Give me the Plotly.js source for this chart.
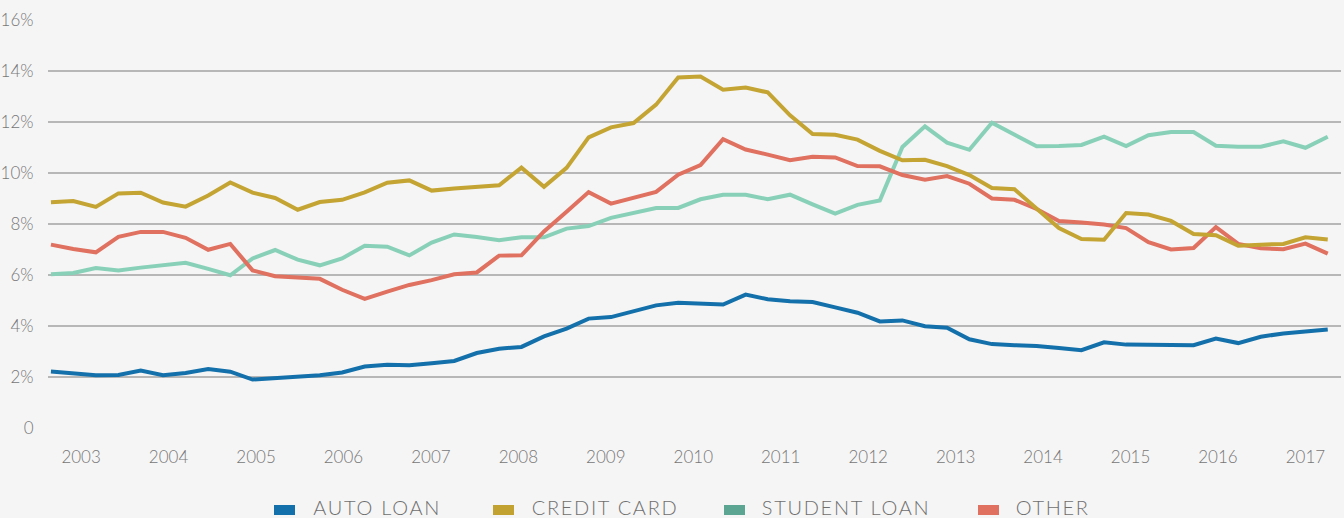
<!DOCTYPE html>
<html>
<head>
<meta charset="utf-8">
<script src="https://cdn.plot.ly/plotly-3.0.1.min.js"></script>
<style>
  html, body { margin: 0; padding: 0; background: #f5f5f5; }
  #chart { width: 1344px; height: 518px; }
  #chart .annotation-text { letter-spacing: 1.7px; }
</style>
</head>
<body>
<div id="chart"></div>
<script>
const quarters = [
  "2003-03-31","2003-06-30","2003-09-30","2003-12-31",
  "2004-03-31","2004-06-30","2004-09-30","2004-12-31",
  "2005-03-31","2005-06-30","2005-09-30","2005-12-31",
  "2006-03-31","2006-06-30","2006-09-30","2006-12-31",
  "2007-03-31","2007-06-30","2007-09-30","2007-12-31",
  "2008-03-31","2008-06-30","2008-09-30","2008-12-31",
  "2009-03-31","2009-06-30","2009-09-30","2009-12-31",
  "2010-03-31","2010-06-30","2010-09-30","2010-12-31",
  "2011-03-31","2011-06-30","2011-09-30","2011-12-31",
  "2012-03-31","2012-06-30","2012-09-30","2012-12-31",
  "2013-03-31","2013-06-30","2013-09-30","2013-12-31",
  "2014-03-31","2014-06-30","2014-09-30","2014-12-31",
  "2015-03-31","2015-06-30","2015-09-30","2015-12-31",
  "2016-03-31","2016-06-30","2016-09-30","2016-12-31",
  "2017-03-31","2017-06-30"
];

const autoLoan = [2.22,2.14,2.07,2.08,2.25,2.07,2.16,2.31,2.21,1.90,
  1.96,2.01,2.07,2.18,2.41,2.48,2.46,2.54,2.63,2.94,
  3.11,3.18,3.59,3.90,4.29,4.35,4.59,4.81,4.91,4.86,
  4.84,5.23,5.05,4.97,4.94,4.73,4.52,4.18,4.22,3.99,
  3.93,3.48,3.29,3.25,3.22,3.14,3.05,3.36,3.27,3.26,
  3.26,3.25,3.51,3.33,3.58,3.71,3.78,3.86];

const creditCard = [8.85,8.90,8.67,9.20,9.23,8.84,8.68,9.12,9.63,9.23,
  9.02,8.56,8.86,8.95,9.24,9.62,9.71,9.31,9.39,9.45,
  9.52,10.21,9.46,10.20,11.40,11.79,11.96,12.68,13.75,13.78,
  13.27,13.35,13.16,12.26,11.53,11.50,11.31,10.87,10.50,10.52,
  10.27,9.92,9.41,9.36,8.60,7.84,7.41,7.38,8.43,8.37,
  8.12,7.61,7.56,7.15,7.19,7.22,7.48,7.39];

const studentLoan = [6.03,6.08,6.27,6.18,6.29,6.39,6.48,6.24,5.99,6.65,
  6.98,6.60,6.38,6.65,7.15,7.11,6.77,7.27,7.59,7.49,
  7.36,7.48,7.48,7.82,7.92,8.24,8.43,8.63,8.63,8.97,
  9.15,9.15,8.97,9.15,8.77,8.41,8.75,8.92,11.02,11.83,
  11.19,10.91,11.97,11.49,11.05,11.06,11.10,11.43,11.06,11.48,
  11.61,11.61,11.07,11.03,11.03,11.24,10.99,11.42];

const other = [7.19,7.02,6.89,7.50,7.69,7.69,7.46,6.99,7.22,6.18,
  5.95,5.88,5.85,5.42,5.06,5.35,5.61,5.80,6.03,6.10,
  6.76,6.77,7.71,8.48,9.25,8.80,9.03,9.26,9.93,10.31,
  11.33,10.92,10.72,10.50,10.64,10.61,10.27,10.26,9.92,9.74,
  9.88,9.58,9.00,8.95,8.59,8.12,8.06,7.98,7.84,7.29,
  7.00,7.06,7.88,7.22,7.05,7.01,7.23,6.84];

const yearLabels = ["2003","2004","2005","2006","2007","2008","2009","2010",
  "2011","2012","2013","2014","2015","2016","2017"];
const yTickVals = [0,2,4,6,8,10,12,14,16];
const yTickText = ["0","2%","4%","6%","8%","10%","12%","14%","16%"];

const legendLabels = ["AUTO LOAN","CREDIT CARD","STUDENT LOAN","OTHER"];

// styles
const lineColors = {auto:"#1470aa", credit:"#c4a432", student:"#88d1b8", other:"#e0705f"};
const swatchColors = ["#1470aa","#c2a231","#5ba592","#e0705f"];
const FONT = "Lato, 'Open Sans', sans-serif";
const LS = 1.7; // letter spacing applied via CSS

function trace(y, color, name) {
  return {x: quarters, y: y, type: "scatter", mode: "lines", name: name,
    line: {color: color, width: 4, shape: "linear"}, showlegend: false, hoverinfo: "skip"};
}
const data = [
  trace(studentLoan, lineColors.student, "STUDENT LOAN"),
  trace(other, lineColors.other, "OTHER"),
  trace(autoLoan, lineColors.auto, "AUTO LOAN"),
  trace(creditCard, lineColors.credit, "CREDIT CARD")
];

// layout geometry
const W = 1344, H = 518, ML = 48, MR = 3, MT = 20, MB = 90;
const PW = W - ML - MR, PH = H - MT - MB;
const px2x = p => (p - ML) / PW;
const py2y = p => (H - MB - p) / PH;

// tick positions for year labels (spread evenly)
const DAY = 86400000;
const tick0 = Date.UTC(2003, 7, 1);
const tickStep = 356.5 * DAY;
const xTickVals = yearLabels.map((_, i) => tick0 + i * tickStep);

const swatchLeft = [274, 493, 724, 978];
const textLeft = [312, 531, 761, 1015];
const shapes = legendLabels.map((_, i) => ({
  type: "rect", xref: "paper", yref: "paper",
  x0: px2x(swatchLeft[i]), x1: px2x(swatchLeft[i] + 21),
  y0: py2y(515), y1: py2y(505),
  fillcolor: swatchColors[i], line: {width: 0}
}));
const annotations = legendLabels.map((t, i) => ({
  text: t, xref: "paper", yref: "paper",
  x: px2x(textLeft[i] + t.length * LS / 2), y: py2y(507), xanchor: "left", yanchor: "middle",
  showarrow: false, borderpad: 0,
  font: {family: FONT, size: 20, color: "#6f6f6f", weight: 300}
}));

const layout = {
  width: W, height: H,
  margin: {l: ML, r: MR, t: MT, b: MB},
  paper_bgcolor: "#f5f5f5", plot_bgcolor: "#f5f5f5",
  showlegend: false,
  xaxis: {
    type: "date",
    range: ["2003-03-19", "2017-08-23"],
    tickmode: "array", tickvals: xTickVals, ticktext: yearLabels,
    showgrid: false, zeroline: false, showline: false,
    ticks: "outside", ticklen: 14, tickcolor: "rgba(0,0,0,0)",
    tickfont: {family: FONT, size: 17, color: "#777777", weight: 300}
  },
  yaxis: {
    range: [0, 16],
    tickmode: "array", tickvals: yTickVals, ticktext: yTickText,
    showgrid: true, gridcolor: "#b7b7b7", gridwidth: 1.5,
    zeroline: false, showline: false,
    ticks: "outside", ticklen: 10, tickcolor: "rgba(0,0,0,0)",
    tickfont: {family: FONT, size: 17, color: "#777777", weight: 300}
  },
  shapes: shapes,
  annotations: annotations
};

Plotly.newPlot("chart", data, layout, {displayModeBar: false, staticPlot: true});
</script>
</body>
</html>
